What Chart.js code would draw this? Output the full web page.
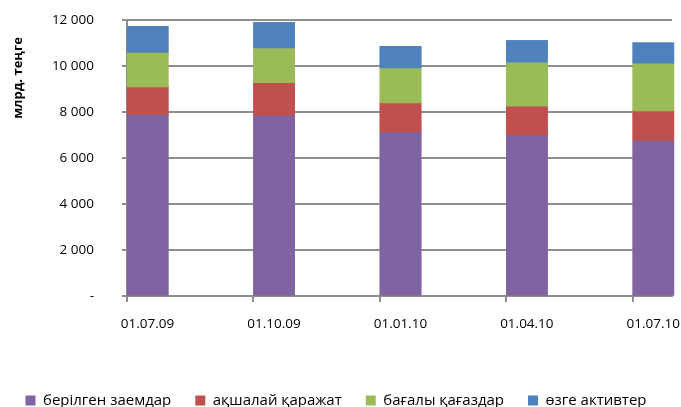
<!DOCTYPE html>
<html><head><meta charset="utf-8">
<style>html,body{margin:0;padding:0;background:#fff;} #wrap{width:681px;height:407px;position:relative;overflow:hidden;}</style>
<script src="https://cdn.jsdelivr.net/npm/chart.js@4.4.0/dist/chart.umd.min.js"></script>
</head><body><div id="wrap"><canvas id="c" width="681" height="407"></canvas></div>
<script>
const categories = ['01.07.09','01.10.09','01.01.10','01.04.10','01.07.10'];
const loans = [7890, 7850, 7135, 7000, 6760];
const cash = [1200, 1420, 1265, 1250, 1290];
const securities = [1500, 1520, 1520, 1920, 2070];
const other = [1130, 1100, 930, 940, 885];
const yTicks = [0, 2000, 4000, 6000, 8000, 10000, 12000];
const seriesNames = ['берілген заемдар', 'ақшалай қаражат', 'бағалы қағаздар', 'өзге активтер'];
const seriesColors = ['#8064A2', '#C0504D', '#9BBB59', '#4F81BD'];
const axisTitle = 'млрд. теңге';

const SHIFT = 0.163;   // bar centre offset from category tick (in category units)
const FONT = "'Open Sans', 'DejaVu Sans', sans-serif";
const GRID = '#8e8e8e';
const CLEAR = 'rgba(0,0,0,0)';

function fmt(v) {
  if (v === 0) return '-';
  return String(v).replace(/\B(?=(\d{3})+(?!\d))/g, ' ');
}

const seriesValues = [loans, cash, securities, other];
const datasets = seriesValues.map((vals, k) => ({
  label: seriesNames[k],
  data: vals.map((v, i) => ({ x: i, y: v })),
  backgroundColor: seriesColors[k],
  borderWidth: 0,
  barThickness: 41
}));

// gridlines and tick marks from the chart's own scales, drawn last, then bars re-drawn on top
const gridPlugin = {
  id: 'gridMarks',
  afterDraw(chart) {
    const ctx = chart.ctx, a = chart.chartArea;
    const ys = chart.scales.y, xs = chart.scales.x;
    ctx.save();
    ctx.fillStyle = GRID;
    ys.ticks.forEach(t => {
      const py = Math.round(ys.getPixelForValue(t.value));
      ctx.fillRect(a.left, py - 1, a.right - a.left, 2);
      ctx.fillRect(a.left - 5, py - 1, 5, 2);
    });
    xs.ticks.forEach(t => {
      const px = Math.round(xs.getPixelForValue(t.value));
      ctx.fillRect(px - 1, a.bottom, 2, 6);
    });
    ctx.fillRect(a.left - 1, a.top - 1, 2, a.bottom - a.top + 2);
    ctx.restore();
    chart.data.datasets.forEach((ds, k) => {
      const meta = chart.getDatasetMeta(k);
      meta.data.forEach(el => el.draw(ctx, a));
    });
    ctx.save();
    ctx.translate(18.5, 78);
    ctx.rotate(-Math.PI / 2);
    ctx.font = 'bold 13px ' + FONT;
    ctx.fillStyle = '#000';
    ctx.textAlign = 'center';
    ctx.textBaseline = 'middle';
    ctx.fillText(axisTitle, 0, 0);
    ctx.restore();
  }
};

new Chart(document.getElementById('c'), {
  type: 'bar',
  data: { datasets },
  options: {
    responsive: false,
    animation: false,
    devicePixelRatio: 1,
    layout: { padding: { top: 20, right: 9, left: 0, bottom: -11 } },
    plugins: {
      tooltip: { enabled: false },
      legend: {
        position: 'bottom',
        labels: { boxWidth: 10, boxHeight: 10, padding: 24, color: '#000', font: { family: FONT, size: 15 } }
      }
    },
    scales: {
      x: {
        type: 'linear', stacked: true, offset: false,
        min: -SHIFT, max: 4.31 - SHIFT,
        afterBuildTicks(scale) { scale.ticks = categories.map((c, i) => ({ value: i - SHIFT })); },
        afterFit(scale) { scale.height = 73; },
        ticks: { callback: (v, i) => categories[i], labelOffset: 20.5, padding: 14, color: '#000', maxRotation: 0, autoSkip: false, font: { family: FONT, size: 13.5 } },
        grid: { offset: false, drawOnChartArea: false, tickLength: 6, color: CLEAR },
        border: { color: GRID, width: 2 }
      },
      y: {
        stacked: true, min: 0, max: 12000,
        afterBuildTicks(scale) { scale.ticks = yTicks.map(v => ({ value: v })); },
        afterFit(scale) { scale.width = 127; scale.paddingTop = 0; scale.paddingBottom = 0; },
        ticks: { callback: v => fmt(v), padding: 28, color: '#000', font: { family: FONT, size: 13.5 } },
        grid: { color: CLEAR, tickLength: 5 },
        border: { color: GRID, width: 2 }
      }
    }
  },
  plugins: [gridPlugin]
});
</script></body></html>
